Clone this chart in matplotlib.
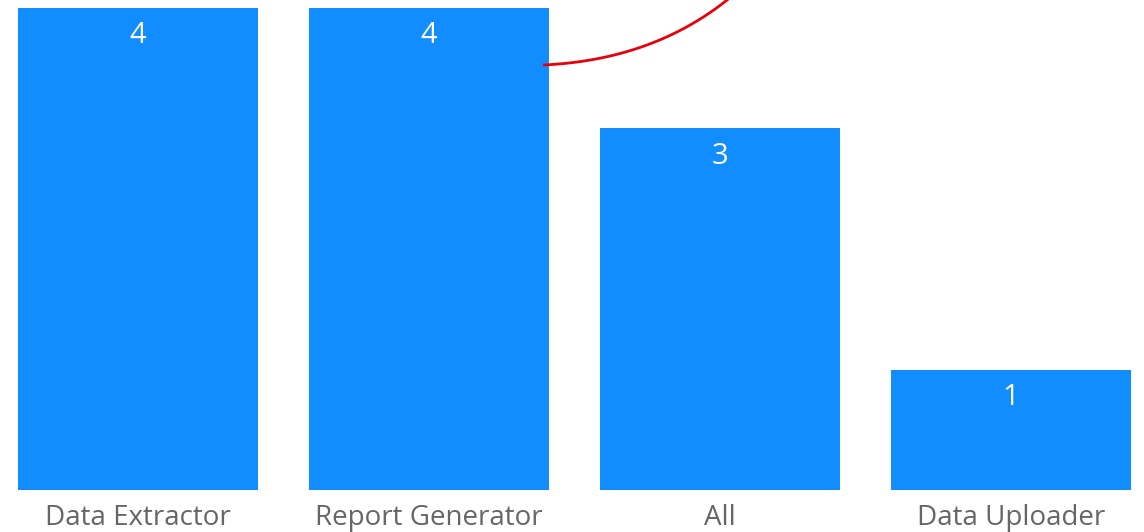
import numpy as np
import matplotlib.pyplot as plt

# data
categories = ["Data Extractor", "Report Generator", "All", "Data Uploader"]
counts = [4, 4, 3, 1]

W, H = 1144, 532
fig = plt.figure(figsize=(W / 100, H / 100), dpi=100)
ax = fig.add_axes([0, 0, 1, 1])

step = 291.0
x0 = 138.0
ax.set_xlim(-x0 / step, (W - x0) / step)
unit = 120.5
base = 490.0
ax.set_ylim(-(H - base) / unit, base / unit)

xs = range(len(categories))
bars = ax.bar(xs, counts, width=240 / step, color="#118DFF")

font = "Open Sans"
for x, v in zip(xs, counts):
    ax.text(x, v - 28 / unit, str(v), ha="center", va="center", color="white",
            fontsize=21, family=font)
for x, c in zip(xs, categories):
    ax.text(x, -(518 - base) / unit, c, ha="center", va="center", color="#666666",
            fontsize=20, family=font)

ax.axis("off")

# red connector curve coming in from above (figure pixel coords)
t = np.linspace(0, 1, 80)
p0, p1, p2 = np.array([543, 65]), np.array([655, 60]), np.array([732, -4])
pts = ((1 - t) ** 2)[:, None] * p0 + (2 * (1 - t) * t)[:, None] * p1 + (t ** 2)[:, None] * p2
fig.add_artist(plt.Line2D(pts[:, 0] / W, 1 - pts[:, 1] / H, transform=fig.transFigure,
                          color="#E8000B", lw=2, solid_capstyle="butt"))

fig.savefig("out.png", dpi=100)
